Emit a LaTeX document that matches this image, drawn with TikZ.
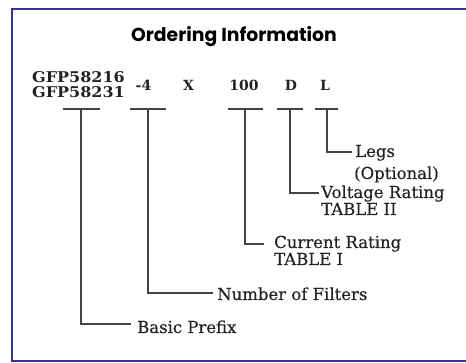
\documentclass[tikz,border=0pt]{standalone}
\usepackage{fontspec}
\setmainfont{DejaVu Serif}
\newfontfamily\titlefont{Poppins}
\newfontfamily\lblfont{DejaVu Serif}[FakeBold=0.4]
\newfontfamily\codefont{DejaVu Serif}
\newfontfamily\partfont{DejaVu Serif}[FakeStretch=1.08]
\definecolor{framecol}{RGB}{52,52,140}
\definecolor{inkcol}{RGB}{35,35,35}
\begin{document}
\begin{tikzpicture}[x=1pt,y=-1pt,
  frame/.style={draw=framecol,line width=2.2pt},
  lead/.style={draw=inkcol!85,line width=1.2pt},
  title/.style={font=\titlefont\bfseries\fontsize{18.8}{19}\selectfont,text=black,inner sep=0pt,anchor=base},
  code/.style={font=\codefont\bfseries\fontsize{14}{14}\selectfont,text=inkcol,inner sep=0pt,anchor=base},
  part/.style={font=\partfont\bfseries\fontsize{14.8}{14}\selectfont,text=inkcol,inner sep=0pt,anchor=base west},
  lbl/.style={font=\lblfont\fontsize{16.5}{16}\selectfont,text=inkcol,inner sep=0pt,anchor=base west},
]
\useasboundingbox (0,0) rectangle (466,363);
\clip (0,0) rectangle (466,363);
\fill[white] (0,0) rectangle (466,363);
\draw[frame] (12,9) rectangle (480,361);

\node[title] (ttl) at (234,42) {Ordering Information};

\node[part] (gfpa) at (32,83) {GFP58216};
\node[part] (gfpb) at (32,98) {GFP58231};
\node[code] (num) at (143.5,91) {-4};
\node[code] (x) at (188.5,91) {X};
\node[code] (cur) at (244,91) {100};
\node[code] (volt) at (291,91) {D};
\node[code] (legs) at (325,91) {L};

% bars under codes
\coordinate (b1) at (81,109);
\coordinate (b2) at (148,109);
\coordinate (b3) at (245,109);
\coordinate (b4) at (290,109);
\coordinate (b5) at (327,109);
\draw[lead] (63,109) -- (100,109);
\draw[lead] (130,109) -- (166,109);
\draw[lead] (228,109) -- (263,109);
\draw[lead] (277,109) -- (303,109);
\draw[lead] (315,109) -- (338,109);

% labels
\node[lbl] (l5a) at (355,157) {Legs};
\node[lbl] (l5b) at (354,179) {(Optional)};
\node[lbl] (l4a) at (321,198) {Voltage Rating};
\node[lbl] (l4b) at (321,215) {TABLE II};
\node[lbl] (l3a) at (274,248) {Current Rating};
\node[lbl] (l3b) at (274,265) {TABLE I};
\node[lbl] (l2) at (217,300) {Number of Filters};
\node[lbl] (l1) at (137,333) {Basic Prefix};

\coordinate (e5) at (352,152);
\coordinate (e4) at (319,193);
\coordinate (e3) at (264,244);
\coordinate (e2) at (213,293);
\coordinate (e1) at (131,324);
\draw[lead] (b5) |- (e5);
\draw[lead] (b4) |- (e4);
\draw[lead] (b3) |- (e3);
\draw[lead] (b2) |- (e2);
\draw[lead] (b1) |- (e1);
\end{tikzpicture}
\end{document}
